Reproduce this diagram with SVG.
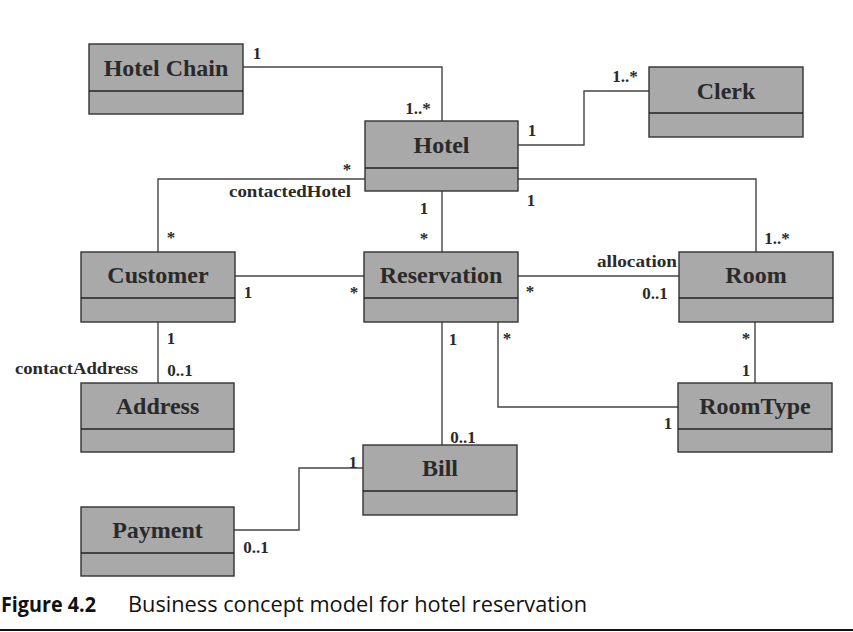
<svg xmlns="http://www.w3.org/2000/svg" width="853" height="632" viewBox="0 0 853 632">
<style>
.box{fill:#a9a9a9;stroke:#333;stroke-width:1.4}
.div{stroke:#222;stroke-width:1.6}
.name{font-family:"Liberation Serif","Times New Roman",serif;font-weight:bold;font-size:24px;fill:#2a2a2a;text-anchor:middle}
.lbl{font-family:"Liberation Serif","Times New Roman",serif;font-weight:bold;font-size:17px;fill:#2a2a2a;text-anchor:middle}
.role{font-family:"Liberation Serif","Times New Roman",serif;font-weight:bold;font-size:17px;fill:#2a2a2a}
.con{fill:none;stroke:#444;stroke-width:1.4}
.cap{font-family:"Open Sans","Noto Sans",sans-serif;font-size:21px;fill:#111}
</style>
<rect width="853" height="632" fill="#ffffff"/>
<g id="connectors">
<polyline class="con" points="243,67 442,67 442,121"/>
<polyline class="con" points="518,145 584,145 584,91 649,91"/>
<polyline class="con" points="518,179 756,179 756,252"/>
<polyline class="con" points="365,179 158,179 158,252"/>
<line class="con" x1="442" y1="191" x2="442" y2="252"/>
<line class="con" x1="235" y1="276" x2="364" y2="276"/>
<line class="con" x1="518" y1="276" x2="679" y2="276"/>
<line class="con" x1="158" y1="322" x2="158" y2="383"/>
<line class="con" x1="442" y1="322" x2="442" y2="445"/>
<polyline class="con" points="498,322 498,407 679,407"/>
<line class="con" x1="755" y1="322" x2="755" y2="383"/>
<polyline class="con" points="363,468 299,468 299,530 234,530"/>
<text class="lbl" x="257" y="59">1</text>
<text class="lbl" x="418" y="114">1..*</text>
<text class="lbl" x="532" y="136">1</text>
<text class="lbl" x="625" y="82">1..*</text>
<text class="lbl" x="531" y="206">1</text>
<text class="lbl" x="777" y="244">1..*</text>
<text class="lbl" x="347" y="175">*</text>
<text class="role" x="229" y="197" textLength="122" lengthAdjust="spacingAndGlyphs">contactedHotel</text>
<text class="lbl" x="171" y="243">*</text>
<text class="lbl" x="424" y="214">1</text>
<text class="lbl" x="424" y="244">*</text>
<text class="lbl" x="248" y="298">1</text>
<text class="lbl" x="354" y="298">*</text>
<text class="role" x="597" y="267" textLength="80" lengthAdjust="spacingAndGlyphs">allocation</text>
<text class="lbl" x="530" y="297">*</text>
<text class="lbl" x="655" y="299">0..1</text>
<text class="lbl" x="171" y="344">1</text>
<text class="lbl" x="180" y="376">0..1</text>
<text class="role" x="15" y="374" textLength="123" lengthAdjust="spacingAndGlyphs">contactAddress</text>
<text class="lbl" x="453" y="345">1</text>
<text class="lbl" x="463" y="443">0..1</text>
<text class="lbl" x="507" y="344">*</text>
<text class="lbl" x="668" y="429">1</text>
<text class="lbl" x="746" y="344">*</text>
<text class="lbl" x="746" y="376">1</text>
<text class="lbl" x="353" y="468">1</text>
<text class="lbl" x="256" y="553">0..1</text>
</g>
<g id="hotelchain"><rect class="box" x="89" y="44" width="154" height="70"/><line class="div" x1="89" y1="91" x2="243" y2="91"/><text class="name" x="166" y="76">Hotel Chain</text></g>
<g id="hotel"><rect class="box" x="365" y="121" width="153" height="70"/><line class="div" x1="365" y1="168" x2="518" y2="168"/><text class="name" x="441.5" y="153">Hotel</text></g>
<g id="clerk"><rect class="box" x="649" y="67" width="154" height="70"/><line class="div" x1="649" y1="113" x2="803" y2="113"/><text class="name" x="726" y="99">Clerk</text></g>
<g id="customer"><rect class="box" x="81" y="252" width="154" height="70"/><line class="div" x1="81" y1="298" x2="235" y2="298"/><text class="name" x="158" y="283">Customer</text></g>
<g id="reservation"><rect class="box" x="364" y="252" width="154" height="70"/><line class="div" x1="364" y1="298" x2="518" y2="298"/><text class="name" x="441" y="283">Reservation</text></g>
<g id="room"><rect class="box" x="679" y="252" width="154" height="70"/><line class="div" x1="679" y1="298" x2="833" y2="298"/><text class="name" x="756" y="283">Room</text></g>
<g id="address"><rect class="box" x="81" y="383" width="153" height="69"/><line class="div" x1="81" y1="429" x2="234" y2="429"/><text class="name" x="157.5" y="414">Address</text></g>
<g id="roomtype"><rect class="box" x="678" y="383" width="154" height="69"/><line class="div" x1="678" y1="429" x2="832" y2="429"/><text class="name" x="755" y="414">RoomType</text></g>
<g id="bill"><rect class="box" x="363" y="445" width="154" height="70"/><line class="div" x1="363" y1="491" x2="517" y2="491"/><text class="name" x="440" y="476">Bill</text></g>
<g id="payment"><rect class="box" x="81" y="507" width="153" height="69"/><line class="div" x1="81" y1="553" x2="234" y2="553"/><text class="name" x="157.5" y="538">Payment</text></g>
<g id="caption">
<text class="cap" x="1" y="612" font-weight="bold" textLength="95" lengthAdjust="spacingAndGlyphs">Figure 4.2</text>
<text class="cap" x="128" y="612" textLength="459" lengthAdjust="spacingAndGlyphs">Business concept model for hotel reservation</text>
<line x1="0" y1="630" x2="853" y2="630" stroke="#111" stroke-width="2"/>
</g>
</svg>
